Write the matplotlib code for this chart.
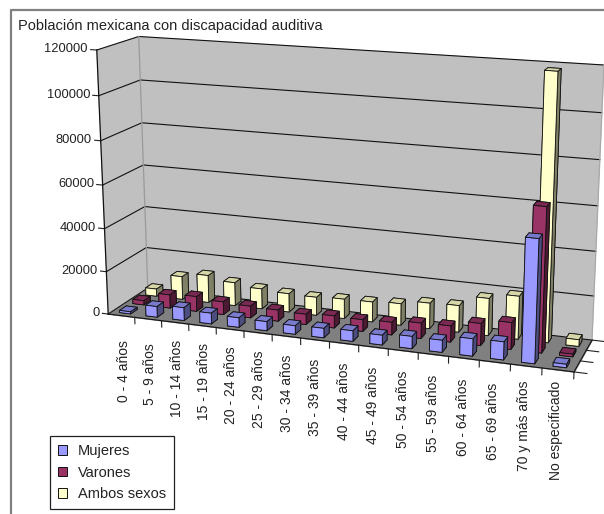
"""Poblacion mexicana con discapacidad auditiva, Excel style 3D bars."""

import matplotlib

matplotlib.use("Agg")
import matplotlib.pyplot as plt
import numpy as np
from matplotlib.lines import Line2D
from matplotlib.patches import Patch
from mpl_toolkits.mplot3d import proj3d
from mpl_toolkits.mplot3d.art3d import Poly3DCollection

plt.rcParams["font.family"] = ["Liberation Sans", "DejaVu Sans"]

categories = [
    "0 - 4 años", "5 - 9 años", "10 - 14 años", "15 - 19 años",
    "20 - 24 años", "25 - 29 años", "30 - 34 años", "35 - 39 años",
    "40 - 44 años", "45 - 49 años", "50 - 54 años", "55 - 59 años",
    "60 - 64 años", "65 - 69 años", "70 y más años", "No especificado",
]
mujeres = [1000, 5000, 6000, 5000, 4400, 4200, 3900, 4300,
           4800, 4400, 5500, 5400, 7700, 8000, 54000, 1500]
varones = [2000, 6300, 7000, 6000, 5500, 5200, 4800, 5600,
           5400, 5800, 7000, 7300, 10000, 12000, 64000, 1200]
ambos = [3500, 11000, 13000, 11000, 9500, 8700, 8500, 9100,
         9300, 10000, 11800, 12200, 17000, 19500, 118000, 3000]
z_ticks = [0, 20000, 40000, 60000, 80000, 100000, 120000]
series_names = ["Mujeres", "Varones", "Ambos sexos"]

# front, top and side shades of each series
shades = {
    "Mujeres": ("#9999FF", "#7A7ACC", "#4D4D80"),
    "Varones": ("#993366", "#7A2952", "#4D1A33"),
    "Ambos sexos": ("#FFFFCC", "#D6D6A8", "#808066"),
}

n_cat = len(categories)
n_ser = len(series_names)
z_max = z_ticks[-1]
font = 9.3
text_color = "#222222"

# box corners (unit cube) and where they sit on the picture, in pixels
corners = [
    ((0, 0, 0), (108, 314)),
    ((0, 0, 1), (97, 50)),
    ((0, 1, 0), (148, 288)),
    ((0, 1, 1), (138.5, 36.5)),
    ((1, 1, 1), (604, 65)),
    ((1, 1, 0), (592, 340)),
    ((1, 0, 0), (574, 372)),
]


def fit_camera(pairs):
    """Fit the 3x4 pinhole camera for the box and return a 4x4 matrix."""
    rows, rhs = [], []
    for (x, y, z), (u, v) in pairs:
        rows.append([x, y, z, 1, 0, 0, 0, 0, -u * x, -u * y, -u * z])
        rows.append([0, 0, 0, 0, x, y, z, 1, -v * x, -v * y, -v * z])
        rhs += [u, v]
    p = np.linalg.lstsq(np.array(rows, float), np.array(rhs, float), rcond=None)[0]
    p = np.append(p, 1.0).reshape(3, 4)
    scale = np.diag([1 / n_cat, 1 / n_ser, 1 / z_max, 1.0])
    p = p @ scale
    # tz = -1 / w, so bigger means further away
    return np.vstack([p[0], p[1], [0, 0, 0, -1], p[2]])


def put_text(x, y, z, label, **kwargs):
    """Write a flat label at a point of the box."""
    u, v, _ = proj3d.proj_transform(x, y, z, camera)
    ax.text2D(u, v, label, transform=ax.transData, color=text_color, **kwargs)


fig = plt.figure(figsize=(6.04, 5.14), dpi=100)
ax = fig.add_axes([0, 0, 1, 1], projection="3d")
ax.set_axis_off()
ax.computed_zorder = False
ax.set_proj_type("ortho")  # only to keep lines from being clipped to +-1
camera = fit_camera(corners)
ax.get_proj = lambda: camera
ax.apply_aspect = lambda position=None: None
ax.viewLim.intervalx = (0, 604)
ax.viewLim.intervaly = (514, 0)

# walls and floor
left_wall = [(0, 0, 0), (0, n_ser, 0), (0, n_ser, z_max), (0, 0, z_max)]
back_wall = [(0, n_ser, 0), (n_cat, n_ser, 0), (n_cat, n_ser, z_max), (0, n_ser, z_max)]
floor = [(0, 0, 0), (n_cat, 0, 0), (n_cat, n_ser, 0), (0, n_ser, 0)]
ax.add_collection3d(Poly3DCollection([left_wall, back_wall], facecolor="#C0C0C0",
                                     edgecolor="#C0C0C0", linewidth=0.5, zorder=1))
ax.add_collection3d(Poly3DCollection([floor], facecolor="#808080",
                                     edgecolor="#808080", linewidth=0.5, zorder=1.5))

# gridlines and value axis
for tick in z_ticks:
    ax.plot([0, 0, n_cat], [0, n_ser, n_ser], [tick, tick, tick],
            color="#111111", lw=0.8, zorder=2)
    ax.plot([-0.22, 0], [0, 0], [tick, tick], color=text_color, lw=0.8, zorder=2)
    put_text(-0.32, 0, tick, str(tick), ha="right", va="center", fontsize=font)
ax.plot([0, 0], [0, 0], [0, z_max], color="#111111", lw=0.9, zorder=2)
ax.plot([0, 0], [n_ser, n_ser], [0, z_max], color="#9A9A9A", lw=0.9, zorder=2)
ax.plot([n_cat, n_cat], [n_ser, n_ser], [0, z_max], color="#A8A8A8", lw=0.9, zorder=2)

# floor edges and their ticks
ax.plot([0, n_cat, n_cat], [0, 0, n_ser], [0, 0, 0], color="#111111", lw=0.8, zorder=2)
for i in range(1, n_cat + 1):
    ax.plot([i, i], [0, 0], [0, -3000], color=text_color, lw=0.8, zorder=2)
for j in range(n_ser + 1):
    ax.plot([n_cat, n_cat + 0.4], [j, j], [0, 0], color=text_color, lw=0.8, zorder=2)

# category labels, centred along a line under the floor
for i, label in enumerate(categories):
    put_text(i + 0.5, 0, -26500, label, rotation=90, ha="center", va="center", fontsize=10)

# back row first, so that nearer rows paint over it
bar_x = np.arange(n_cat) + 0.29
for row, (name, values) in reversed(list(enumerate(zip(series_names, [mujeres, varones, ambos])))):
    front, top, side = shades[name]
    faces = [top, top, front, side, side, side] * n_cat
    ax.bar3d(bar_x, np.full(n_cat, row + 0.27), np.zeros(n_cat),
             0.42, 0.5, values, color=faces, edgecolor="#111111",
             linewidth=0.6, shade=False, zorder=5 + n_ser - row)

# chart frame, title and legend live on the figure
frame = Line2D([0.0175, 0.0175, 1.0], [0.0, 0.98, 0.98], transform=fig.transFigure,
               color="#808080", lw=1.6)
fig.add_artist(frame)
fig.text(18 / 604, 1 - 26 / 514, "Población mexicana con discapacidad auditiva",
         fontsize=10.5, color=text_color, va="center", ha="left")

handles = [Patch(facecolor=shades[name][0], edgecolor="#111111", lw=0.7)
           for name in series_names]
legend = fig.legend(handles, series_names, loc="lower left",
                    bbox_to_anchor=(49.5 / 604, 1 - 509 / 514), fontsize=10.5,
                    frameon=True, fancybox=False, framealpha=1, edgecolor=text_color,
                    labelcolor=text_color, handlelength=0.65, handleheight=0.65,
                    handletextpad=0.75, labelspacing=0.5, borderpad=0.55,
                    borderaxespad=0)
legend.get_frame().set_linewidth(0.9)

fig.savefig("out.png", dpi=100)
